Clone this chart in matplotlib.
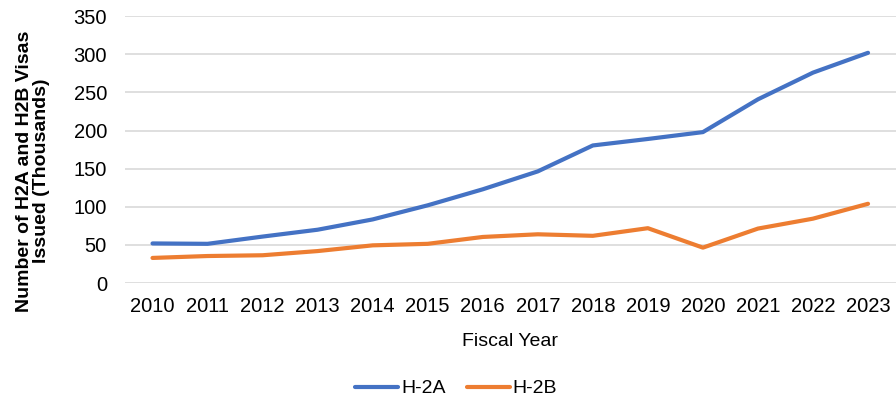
import matplotlib.pyplot as plt

plt.rcParams["font.family"] = ["Liberation Sans", "DejaVu Sans"]

# data (thousands of visas issued)
years = ["2010", "2011", "2012", "2013", "2014", "2015", "2016",
         "2017", "2018", "2019", "2020", "2021", "2022", "2023"]
h2a = [52, 51.5, 61, 70, 83.5, 102, 123, 146.5, 180.5, 189, 198, 241, 276, 302]
h2b = [33, 35.5, 36.5, 42, 49.5, 51.5, 60.5, 64, 62, 72, 46.5, 71.5, 84.5, 104]
yticks = [0, 50, 100, 150, 200, 250, 300, 350]

fig = plt.figure(figsize=(8.96, 4.05), dpi=100)
ax = fig.add_axes([0.1395, 0.301, 0.86, 0.659])

x = range(len(years))
ax.plot(x, h2a, color="#4472C4", lw=3, label="H-2A", solid_capstyle="round")
ax.plot(x, h2b, color="#ED7D31", lw=3, label="H-2B", solid_capstyle="round")

ax.set_xlim(-0.5, len(years) - 0.5)
ax.set_ylim(0, 350)
ax.set_xticks(list(x))
ax.set_xticklabels(years)
ax.set_yticks(yticks)
ax.grid(axis="y", color="#D9D9D9", lw=1.2)
ax.set_axisbelow(True)
for s in ax.spines.values():
    s.set_visible(False)
ax.tick_params(axis="both", length=0, labelsize=14.5)
ax.tick_params(axis="y", pad=13)
ax.tick_params(axis="x", pad=10)

ax.set_xlabel("Fiscal Year", fontsize=14, labelpad=12)
ax.set_ylabel("Number of H2A and H2B Visas\nIssued (Thousands)", fontsize=14,
              fontweight="bold", linespacing=1.05)
ax.yaxis.set_label_coords(-0.097, 0.42)

ax.legend(loc="center", bbox_to_anchor=(0.43, -0.395), ncol=2, frameon=False,
          fontsize=14, handlelength=2.2, handletextpad=0.15, columnspacing=1.1)

fig.savefig("out.png", dpi=100)
